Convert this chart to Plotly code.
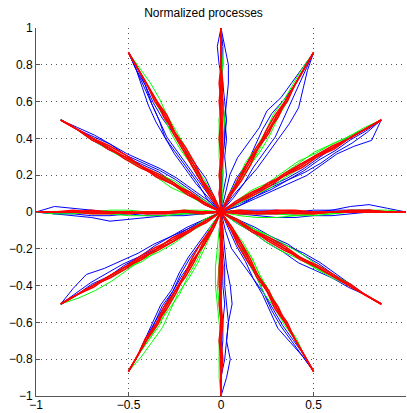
import numpy as np
import plotly.graph_objects as go

# ray angles in degrees (12 directions)
angles_deg = [0, 30, 60, 90, 120, 150, 180, 210, 240, 270, 300, 330]
# fractions along each ray where the processes are sampled
steps = [0.0, 0.1, 0.2, 0.3, 0.4, 0.5, 0.6, 0.7, 0.8, 0.9, 1.0]

# perpendicular deviations (hundredths) at interior steps, per ray
blue = [
    [[0,-1,-1,-1,0,1,3,4,2], [-1,-2,-3,-3,-2,-2,-1,0,0], [1,1,1,0,1,1,1,1,0]],
    [[-2,-3,-4,-5,-6,-5,-4,-5,-7], [-1,-2,-3,-3,-3,-2,-2,-1,-1], [1,0,-1,-2,-2,-1,0,1,0], [-2,-2,-2,-3,-4,-4,-3,-3,-2]],
    [[3,6,7,6,5,6,3,2,1], [-1,-3,-5,-6,-7,-8,-8,-5,-2], [-2,-3,-3,-4,-5,-4,-3,-2,-1], [1,2,1,2,3,3,1,0,0]],
    [[-1,-3,-2,-3,-2,-3,-4,-4,-2], [1,0,-1,-2,-3,-2,-1,1,2], [0,-1,-1,-2,-2,-1,0,-1,-1]],
    [[2,4,5,6,6,4,3,2,1], [1,2,3,4,5,4,3,1,1], [-1,-2,-1,0,1,2,2,1,0], [3,3,4,5,6,6,5,3,1]],
    [[-2,-3,-4,-4,-3,-2,-2,-1,0], [-1,-2,-3,-3,-2,-1,-2,-2,-1], [1,0,-1,-2,-1,0,1,1,0]],
    [[1,2,2,3,4,5,3,2,1], [0,0,1,1,0,0,-1,-2,-3], [1,1,2,2,1,2,2,1,1]],
    [[-1,-2,-2,-3,-3,-4,-5,-7,-4], [-1,-1,-2,-2,-1,-2,-2,-2,-1], [0,-1,-1,0,-1,-1,0,-1,0]],
    [[-1,-2,-3,-3,-2,-3,-2,-1,0], [1,1,0,-1,-1,-2,-1,0,0], [0,-1,-2,-2,-1,-1,-1,-1,0]],
    [[1,2,3,5,6,4,3,5,3], [0,1,2,2,3,4,3,2,0], [-1,0,1,1,2,1,1,0,0]],
    [[-3,-5,-4,-3,-3,-4,-5,-3,-1], [-1,-2,-2,-3,-2,-2,-2,-1,0], [0,-1,-1,-1,-2,-3,-3,-2,-1]],
    [[1,2,2,3,2,2,1,1,0], [-1,-1,-2,-2,-3,-2,-1,-1,0], [1,1,1,2,3,3,2,1,0]],
]
green = [
    [[-2,-3,-3,-2,-2,-1,0,1,1], [1,0,-1,-1,-1,0,1,1,0], [-1,-1,-1,-2,-1,-1,0,0,0]],
    [[1,2,1,2,3,2,2,1,1], [0,1,0,1,2,3,2,1,0], [-1,-1,-2,-1,-1,0,0,1,0]],
    [[0,-1,-1,-2,-2,-1,-1,0,0], [1,1,2,1,1,2,1,1,1], [0,0,-1,-1,0,0,0,0,0]],
    [[0,1,-1,-1,-2,-1,0,0,0], [-1,-1,0,0,1,0,0,-1,0], [0,0,1,1,1,0,0,0,0]],
    [[1,1,0,-1,-1,-1,-2,-2,-1], [0,1,1,2,2,1,1,0,0], [-1,-1,0,1,1,0,0,0,0]],
    [[1,1,2,1,0,1,1,0,0], [0,-1,-1,0,1,1,0,0,0], [-1,-1,-2,-1,0,0,1,1,0]],
    [[1,1,2,2,2,1,1,0,0], [0,1,1,0,-1,-1,0,1,1], [-1,-1,0,0,1,1,0,0,0]],
    [[1,1,2,2,1,2,3,3,2], [0,1,1,0,1,1,0,0,0], [-1,0,1,1,2,1,1,0,0]],
    [[1,2,3,3,2,3,4,3,2], [0,1,2,2,3,2,1,1,0], [-1,0,1,1,0,1,2,1,0]],
    [[-1,-2,-3,-3,-2,-1,0,-1,-1], [1,0,-1,-1,0,0,-1,-1,0], [0,-1,-1,-2,-1,0,0,0,0]],
    [[1,1,2,1,1,0,0,1,0], [0,0,-1,-1,-2,-1,-1,0,0], [1,2,2,1,1,1,0,0,0]],
    [[-1,-1,-2,-2,-1,-1,0,0,0], [1,1,2,2,2,1,1,1,0], [0,1,1,0,0,-1,-1,0,0]],
]
red = [
    [[0,-1,-1,0,0,0,1,1,0], [-1,-1,0,0,-1,0,0,0,0], [0,0,1,1,0,0,0,0,0], [1,0,0,-1,-1,0,0,1,0]],
    [[0,0,1,0,1,1,0,0,0], [0,-1,-1,0,0,1,1,0,0], [1,1,0,0,-1,0,0,0,0], [0,0,0,1,1,0,-1,0,0]],
    [[0,0,1,0,0,-1,0,0,0], [0,1,1,1,0,0,0,0,0], [0,-1,-1,0,-1,0,-1,0,0], [1,0,0,0,1,1,0,0,0]],
    [[0,0,-1,0,0,1,0,0,0], [1,0,0,1,0,0,-1,0,0], [0,1,0,0,-1,-1,0,0,0], [0,0,0,-1,0,0,1,0,0]],
    [[1,1,1,0,0,1,0,0,0], [0,0,-1,-1,0,0,1,0,0], [0,1,1,1,1,0,0,0,0], [-1,0,0,0,0,-1,0,0,0]],
    [[0,1,0,0,1,1,0,0,0], [0,0,-1,-1,0,0,0,1,0], [1,0,0,1,0,-1,-1,0,0], [0,-1,0,0,0,0,1,0,0]],
    [[0,0,1,1,0,0,0,-1,0], [1,0,0,0,1,0,0,0,0], [0,-1,0,0,0,1,1,0,0], [0,0,0,1,0,0,-1,0,0]],
    [[0,1,1,0,0,1,1,0,0], [0,0,0,-1,-1,0,0,0,0], [1,0,1,1,0,0,0,1,0], [0,0,-1,0,1,0,0,0,0]],
    [[1,1,0,0,1,1,0,0,0], [0,0,1,1,0,0,0,-1,0], [0,-1,-1,0,0,0,1,0,0], [0,1,0,0,0,-1,0,0,0]],
    [[0,0,-1,-1,0,0,0,0,0], [0,1,0,0,0,1,0,0,0], [1,0,0,0,-1,0,0,1,0], [0,0,1,0,0,0,-1,0,0]],
    [[0,-1,-1,0,0,1,0,0,0], [1,1,0,0,0,0,1,0,0], [0,0,0,-1,0,-1,0,0,0], [0,1,1,0,1,0,0,0,0]],
    [[0,0,1,1,0,0,0,1,0], [0,-1,0,0,-1,0,0,0,0], [1,0,0,0,0,1,1,0,0], [0,0,-1,-1,0,0,0,0,0]],
]


def build(series):
    xs, ys = [], []
    t = np.array(steps)
    for ang, paths in zip(angles_deg, series):
        th = np.deg2rad(ang)
        d = np.array([np.cos(th), np.sin(th)])
        p = np.array([-np.sin(th), np.cos(th)])
        for off in paths:
            o = np.array([0] + off + [0]) / 100.0
            x = t * d[0] + o * p[0]
            y = t * d[1] + o * p[1]
            xs += list(x) + [None]
            ys += list(y) + [None]
    return xs, ys


fig = go.Figure()
for series, col, w in [(blue, "#0000ff", 1), (green, "#00ff00", 1), (red, "#ff0000", 1.5)]:
    xs, ys = build(series)
    fig.add_trace(go.Scatter(x=xs, y=ys, mode="lines", line=dict(color=col, width=w),
                             showlegend=False, hoverinfo="skip"))

axis_common = dict(
    showgrid=True, gridcolor="#555555", griddash="1px,4px", gridwidth=1,
    zeroline=False, showline=True, linecolor="#555555", linewidth=1,
    ticks="inside", ticklen=4, tickcolor="#555555", mirror=False, automargin=False,
    tickfont=dict(family="Liberation Sans, Arial", size=12, color="black"),
)
fig.update_xaxes(range=[-1, 1], tickvals=[-1, -0.5, 0, 0.5, 1],
                 ticktext=["\u22121", "\u22120.5", "0", "0.5", "1"],
                 ticklabelstandoff=-2, **axis_common)
fig.update_yaxes(range=[-1, 1], tickvals=[-1, -0.8, -0.6, -0.4, -0.2, 0, 0.2, 0.4, 0.6, 0.8, 1],
                 ticktext=["\u22121", "\u22120.8", "\u22120.6", "\u22120.4", "\u22120.2", "0",
                           "0.2", "0.4", "0.6", "0.8", "1"], **axis_common)
fig.update_layout(
    width=407, height=413,
    margin=dict(l=36, r=1, t=28, b=17),
    plot_bgcolor="white", paper_bgcolor="white",
    title=dict(text="Normalized processes", x=0.5, xanchor="center", y=0.968, yanchor="middle",
               font=dict(family="Liberation Sans, Arial", size=12, color="black"),
               automargin=False),
)
fig.write_html("out.html", config={"displayModeBar": False},
               post_script="document.body.style.margin='0';")
